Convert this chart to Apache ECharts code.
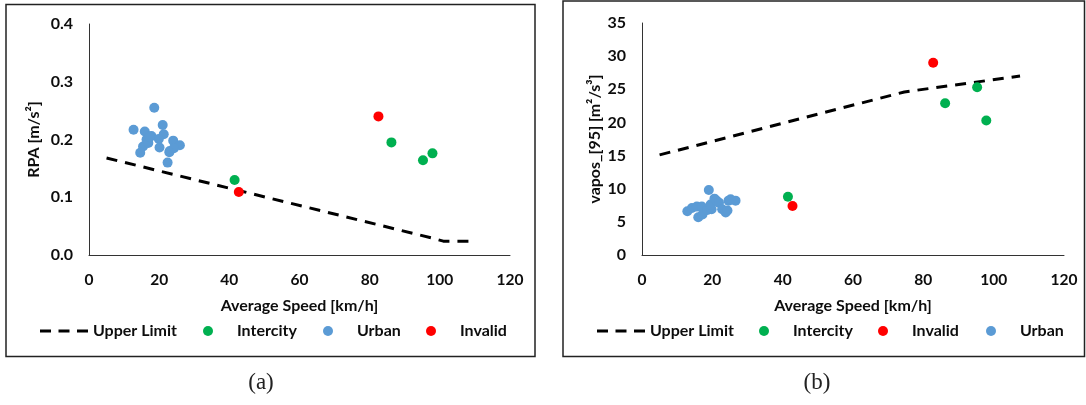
<!DOCTYPE html>
<html>
<head>
<meta charset="utf-8">
<script src="https://cdn.jsdelivr.net/npm/echarts@6/dist/echarts.min.js"></script>
<style>
  html, body { margin: 0; padding: 0; background: #fff; }
  #chart { width: 1086px; height: 405px; }
</style>
</head>
<body>
<div id="chart"></div>
<script>
// Axis ranges shared by both panels
const speedRange = { min: 0, max: 120, interval: 20 };
const rpaRange = { min: 0, max: 0.4, interval: 0.1 };
const vaposRange = { min: 0, max: 35, interval: 5 };

// Panel (a): RPA [m/s²] vs average speed [km/h]
const rpaLimit = [[5, 0.168], [98, 0.029], [101, 0.024], [110, 0.024]];
const rpaIntercity = [[41.5, 0.130], [86.2, 0.195], [95.2, 0.164], [97.9, 0.176]];
const rpaUrban = [
  [18.6, 0.255], [12.7, 0.217], [21.0, 0.225], [15.9, 0.214], [17.8, 0.206],
  [21.3, 0.209], [16.4, 0.200], [19.9, 0.201], [24.0, 0.198], [15.4, 0.188],
  [20.1, 0.186], [14.6, 0.177], [25.9, 0.190], [23.0, 0.180], [24.2, 0.185],
  [22.4, 0.160], [16.9, 0.194], [17.3, 0.205], [22.9, 0.178]
];
const rpaInvalid = [[42.7, 0.109], [82.5, 0.240]];

// Panel (b): vapos_[95] [m²/s³] vs average speed [km/h]
const vaposLimit = [[5, 15.1], [74.6, 24.6], [107.5, 27.0]];
const vaposIntercity = [[41.5, 8.8], [86.2, 22.9], [95.3, 25.3], [97.9, 20.3]];
const vaposInvalid = [[42.8, 7.4], [82.8, 29.0]];
const vaposUrban = [
  [12.9, 6.6], [14.2, 7.1], [15.6, 7.3], [16.0, 5.7], [17.2, 6.1],
  [17.0, 7.3], [19.0, 9.8], [18.6, 6.8], [19.8, 6.9], [19.5, 7.6],
  [20.6, 8.5], [21.2, 8.2], [21.9, 7.9], [22.8, 6.9], [23.8, 6.4],
  [24.3, 6.7], [24.6, 8.2], [26.6, 8.2], [25.2, 8.4]
];

const FONT = 'Lato, "Open Sans", sans-serif';
const INK = '#0d0d0d';
const GREEN = '#00B050', BLUE = '#5B9BD5', RED = '#FF0000';
const DASH = { color: '#000', width: 3, type: [11, 8], cap: 'butt' };
// three dashes used as the legend swatch of the limit line
const DASH_ICON = 'path://M0,0H11V3H0Z M18.5,0H29.5V3H18.5Z M37,0H48V3H37Z';

function xAxisFor(gridIndex) {
  return {
    gridIndex, type: 'value', ...speedRange,
    name: 'Average Speed [km/h]', nameLocation: 'middle', nameGap: 43,
    nameTextStyle: { fontFamily: FONT, fontWeight: 'bold', fontSize: 16, color: INK },
    axisLine: { show: true, lineStyle: { color: '#333', width: 1 } },
    axisTick: { show: false }, splitLine: { show: false },
    axisLabel: { margin: 17, fontFamily: FONT, fontWeight: 'bold', fontSize: 15.5, color: INK }
  };
}
function yAxisFor(gridIndex, range, name, gap, fmt) {
  return {
    gridIndex, type: 'value', ...range,
    name, nameLocation: 'middle', nameGap: gap, nameRotate: 90,
    nameTextStyle: { fontFamily: FONT, fontWeight: 'bold', fontSize: 16, color: INK },
    axisLine: { show: true, onZero: false, lineStyle: { color: '#333', width: 1 } },
    axisTick: { show: false }, splitLine: { show: false },
    axisLabel: { margin: 16, fontFamily: FONT, fontWeight: 'bold', fontSize: 16, color: INK, formatter: fmt }
  };
}
function scatter(name, data, color, idx) {
  return {
    name, type: 'scatter', xAxisIndex: idx, yAxisIndex: idx, data,
    symbol: 'circle', symbolSize: 10, itemStyle: { color, opacity: 1 }, z: 3
  };
}
function limitLine(data, idx) {
  return {
    name: 'Upper Limit', type: 'line', xAxisIndex: idx, yAxisIndex: idx, data,
    symbol: 'none', lineStyle: DASH, itemStyle: { color: '#000' }, z: 2, silent: true
  };
}
// One legend entry placed at an explicit left position
function legendItem(name, left, isLine) {
  return {
    left, top: 323, padding: 0, orient: 'horizontal', selectedMode: false,
    data: [name],
    itemWidth: isLine ? 48 : 10, itemHeight: isLine ? 3 : 10,
    icon: isLine ? DASH_ICON : 'circle',
    formatter: isLine ? '{t|{name}}' : '{p|}{t|{name}}',
    textStyle: {
      rich: {
        t: { fontFamily: FONT, fontWeight: 'bold', fontSize: 16, color: INK },
        p: { width: 19 }
      }
    }
  };
}

const chart = echarts.init(document.getElementById('chart'), null, { renderer: 'canvas' });
chart.setOption({
  animation: false,
  backgroundColor: '#fff',
  grid: [
    { left: 89, top: 24, width: 421, height: 231 },
    { left: 642, top: 23, width: 422, height: 232 }
  ],
  xAxis: [xAxisFor(0), xAxisFor(1)],
  yAxis: [
    yAxisFor(0, rpaRange, 'RPA [m/s²]', 47, v => v.toFixed(1)),
    yAxisFor(1, vaposRange, 'vapos_[95] [m²/s³]', 39, v => String(v))
  ],
  legend: [
    legendItem('Upper Limit', 40, true),
    legendItem('Intercity', 203, false),
    legendItem('Urban', 323, false),
    legendItem('Invalid', 426, false),
    legendItem('Upper Limit', 597, true),
    legendItem('Intercity', 759, false),
    legendItem('Invalid', 878, false),
    legendItem('Urban', 986, false)
  ],
  series: [
    limitLine(rpaLimit, 0),
    scatter('Intercity', rpaIntercity, GREEN, 0),
    scatter('Urban', rpaUrban, BLUE, 0),
    scatter('Invalid', rpaInvalid, RED, 0),
    limitLine(vaposLimit, 1),
    scatter('Intercity', vaposIntercity, GREEN, 1),
    scatter('Invalid', vaposInvalid, RED, 1),
    scatter('Urban', vaposUrban, BLUE, 1)
  ],
  graphic: [
    { type: 'rect', shape: { x: 6, y: 4.5, width: 529, height: 352 },
      style: { fill: 'none', stroke: '#222', lineWidth: 1.5 }, silent: true },
    { type: 'rect', shape: { x: 563, y: 1, width: 521.5, height: 355.5 },
      style: { fill: 'none', stroke: '#222', lineWidth: 1.5 }, silent: true },
    { type: 'text', style: { text: '(a)', x: 261, y: 383, align: 'center', verticalAlign: 'middle',
      font: '23px "Liberation Serif", serif', fill: '#222' }, silent: true },
    { type: 'text', style: { text: '(b)', x: 817, y: 383, align: 'center', verticalAlign: 'middle',
      font: '23px "Liberation Serif", serif', fill: '#222' }, silent: true }
  ]
});
</script>
</body>
</html>
